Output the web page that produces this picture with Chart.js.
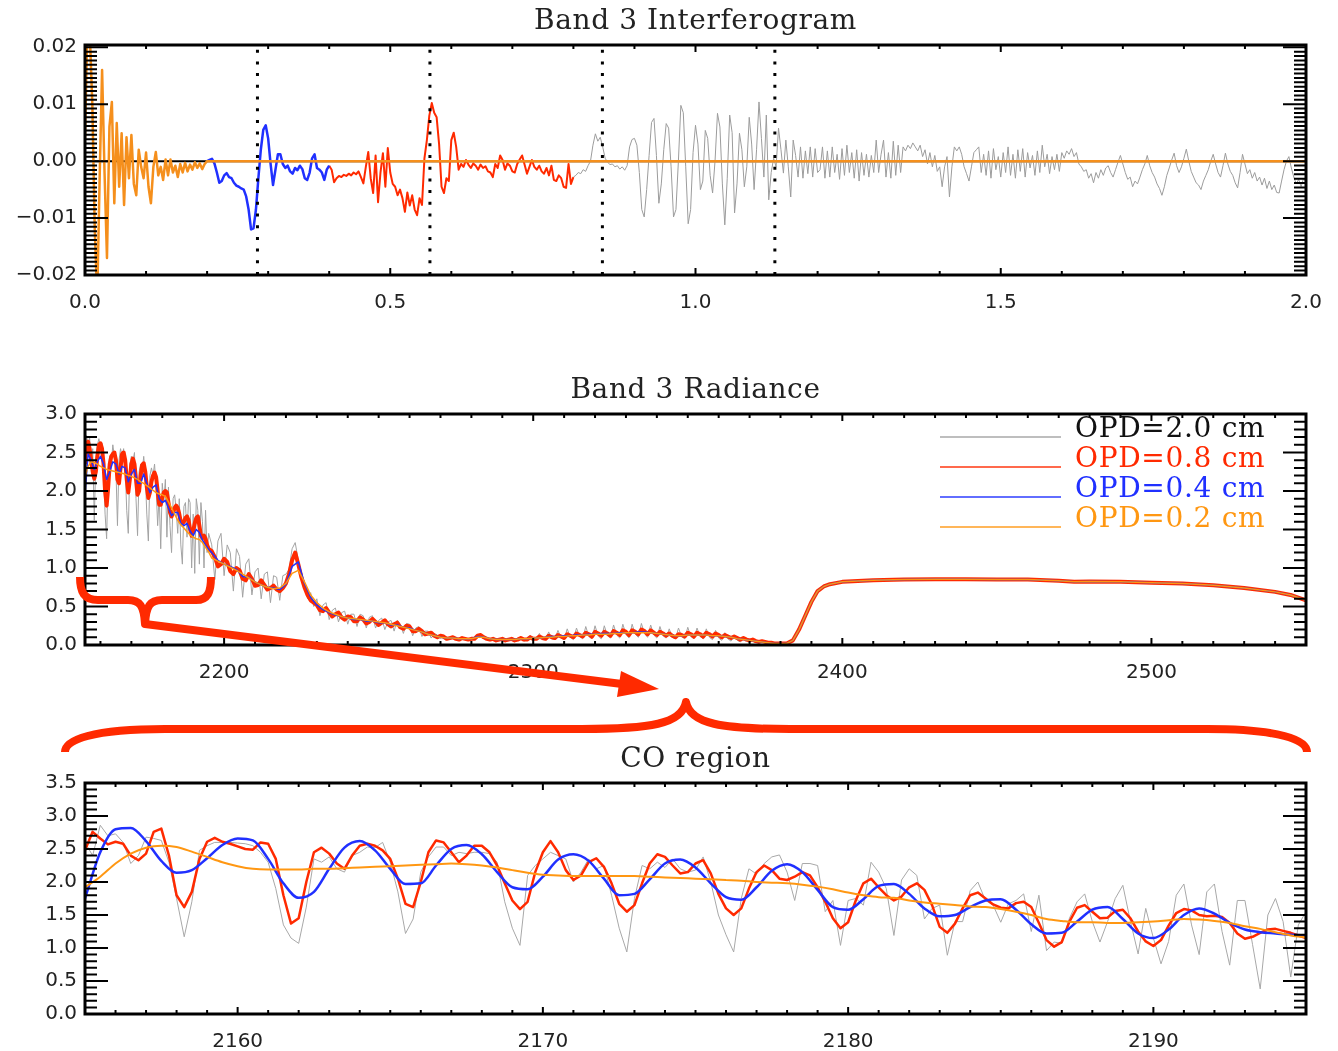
<!DOCTYPE html>
<html>
<head>
<meta charset="utf-8">
<title>Band 3 interferogram / radiance / CO region</title>
<script src="https://cdn.jsdelivr.net/npm/chart.js@4.4.1/dist/chart.umd.min.js"></script>
<style>
  html, body { margin: 0; padding: 0; background: #fff; }
  #page { position: relative; width: 1338px; height: 1051px; overflow: hidden; background: #fff; }
  canvas { position: absolute; left: 0; }
  #c1 { top: 0; width: 1338px; height: 320px; }
  #c2 { top: 360px; width: 1338px; height: 330px; }
  #c3 { top: 730px; width: 1338px; height: 321px; }
  svg { position: absolute; left: 0; top: 0; pointer-events: none; }
</style>
</head>
<body>
<div id="page">
  <canvas id="c1" width="1338" height="320"></canvas>
  <canvas id="c2" width="1338" height="330"></canvas>
  <canvas id="c3" width="1338" height="321"></canvas>
  <!-- annotation marks (brace + arrow) -->
  <svg width="1338" height="1051" viewBox="0 0 1338 1051">
    <g fill="none" stroke="#ff2a00" stroke-width="8" stroke-linejoin="round">
      <path d="M 80 577 C 80 592, 84 600, 98 600 L 128 600 C 140 600, 144 606, 145 624 C 146 606, 150 600, 162 600 L 196 600 C 208 600, 211 592, 211 577"/>
      <path d="M 145 624 L 622 684"/>
      <path d="M 65 752 C 65 740, 92 729, 165 729 L 582 729 C 650 729, 682 724, 686 702 C 690 724, 722 729, 790 729 L 1207 729 C 1280 729, 1307 740, 1307 752"/>
    </g>
    <polygon points="659,689 621,671 617,697" fill="#ff2a00"/>
  </svg>
</div>
<script>
// ---- Interferogramme (OPD en cm, pas de 0.004 cm, 0 -> 2.0) ----
const igmStep = 0.004;
const igmValues = [
  0.004, 0.024, 0.022, 0.010, -0.012, -0.024, -0.003, 0.016, -0.002, -0.017,
  0.006, 0.0104, -0.0074, 0.0067, -0.0045, 0.0049, -0.0077, 0.0042, -0.003, 0.0046,
  -0.004, -0.006, 0.002, -0.001, -0.003, 0.0015, -0.0045, -0.0074, -0.001, 0.0016,
  -0.0025, -0.001, -0.0033, 0.0003, -0.0025, 0.0003, -0.002, -0.0008, -0.0028, -0.0005,
  -0.002, -0.0003, -0.0018, -0.0006, -0.0015, -0.0002, -0.0012, -0.0004, -0.0014, -0.0005,
  0.0, 0.0002, 0.0004, -0.0004, -0.002, -0.0038, -0.0035, -0.0025, -0.0021, -0.0028,
  -0.003, -0.0038, -0.0043, -0.0045, -0.0048, -0.005, -0.0062, -0.0085, -0.012, -0.0118,
  -0.0085, -0.003, 0.002, 0.0055, 0.0063, 0.004, -0.0005, -0.0042, -0.0015, 0.0012,
  0.0012, -0.0005, -0.0012, -0.0008, -0.0018, -0.0022, -0.0012, -0.0016, -0.0008, -0.0014,
  -0.003, -0.0033, -0.002, 0.0005, 0.0012, -0.0012, -0.0015, -0.002, -0.0033, -0.0015,
  -0.0008, -0.0015, -0.0037, -0.003, -0.0026, -0.0028, -0.0024, -0.0026, -0.0022, -0.0025,
  -0.002, -0.0023, -0.0018, -0.0028, -0.0039, -0.001, 0.0016, -0.003, -0.0056, 0.001,
  -0.0072, -0.002, 0.0014, -0.0045, 0.0023, -0.002, -0.004, -0.0045, -0.006, -0.005,
  -0.0065, -0.0089, -0.0055, -0.0078, -0.006, -0.0085, -0.0095, -0.0065, -0.0077, 0.0005,
  0.0037, 0.008, 0.0102, 0.0085, 0.0077, 0.003, -0.0045, -0.0056, -0.003, -0.0035,
  0.0037, 0.005, 0.0025, -0.0015, -0.0005, -0.001, 0.0002, -0.0006, -0.0012, -0.0004,
  -0.0008, -0.0015, -0.0006, -0.0012, -0.0009, -0.0018, -0.002, -0.0028, -0.0005, -0.0012,
  0.001, 0.0002, -0.0015, -0.0004, -0.0008, -0.0018, -0.002, -0.0005, 0.0003, 0.001,
  -0.0006, -0.0022, -0.001, 0.0002, -0.001, -0.0015, -0.0008, -0.0018, -0.0022, -0.0012,
  -0.0025, -0.0008, -0.0033, -0.0035, -0.0025, -0.003, -0.0045, -0.0047, -0.0005, -0.004,
  -0.0028, -0.0025, -0.002, -0.0022, -0.0015, -0.0018, -0.0008, 0.0, 0.0028, 0.0048,
  0.0035, 0.0042, 0.0025, 0.0005, -0.0002, -0.0006, -0.0005, -0.001, -0.0008, -0.0014,
  -0.001, -0.0016, -0.0008, 0.0025, 0.0038, 0.004, 0.0028, -0.002, -0.0085, -0.0098,
  -0.005, 0.001, 0.0068, 0.0075, 0.001, -0.0074, -0.004, 0.002, 0.0066, 0.0058,
  -0.001, -0.0098, -0.0085, 0.0, 0.0098, 0.0085, -0.001, -0.011, -0.0085, 0.0015,
  0.0063, 0.003, -0.005, -0.0035, 0.0054, 0.004, -0.0025, -0.0056, 0.0, 0.0084,
  0.006, -0.004, -0.0112, -0.003, 0.0081, 0.005, -0.0091, -0.004, 0.0049, 0.002,
  -0.0045, -0.001, 0.0077, 0.003, -0.005, 0.002, 0.0104, 0.004, -0.0028, 0.0081,
  -0.0068, -0.002, 0.0005, -0.001, 0.0058, 0.002, -0.0021, 0.0037, -0.001, -0.0063,
  0.0037, 0.001, -0.0028, 0.0025, -0.003, 0.0018, -0.0022, 0.0025, -0.0028, 0.0022,
  -0.002, -0.0015, 0.0025, -0.003, 0.0018, -0.0028, 0.0025, -0.002, 0.0012, -0.0032,
  0.0022, -0.0025, 0.0028, -0.002, 0.0015, -0.003, 0.002, -0.0035, 0.0015, -0.0025,
  0.0012, -0.0028, 0.001, -0.002, 0.0037, -0.002, 0.0012, 0.0037, -0.0028, 0.0015,
  -0.003, 0.0035, -0.0025, 0.0028, -0.002, 0.0025, 0.0018, 0.0028, 0.0022, 0.0032,
  0.0025, 0.0018, 0.0028, 0.0008, 0.002, -0.0005, 0.0015, -0.001, 0.001, -0.0018,
  -0.001, -0.0045, -0.001, 0.0008, -0.0063, -0.001, 0.0025, 0.0018, 0.0025, 0.0012,
  -0.001, -0.0022, -0.0035, -0.001, 0.0015, 0.002, 0.0025, -0.002, 0.0012, -0.0025,
  0.0018, -0.003, 0.0022, -0.0015, 0.0008, -0.0028, 0.0015, -0.002, 0.0025, -0.0025,
  0.0012, -0.003, 0.002, -0.0018, 0.0022, -0.0028, 0.0015, -0.0012, 0.001, -0.0025,
  0.0018, -0.002, 0.0028, -0.001, 0.0012, -0.0022, 0.0008, -0.0015, 0.0012, -0.0018,
  0.0015, 0.0005, 0.0018, 0.0012, 0.0022, 0.0008, 0.0015, -0.0005, -0.001, -0.0018,
  -0.0015, -0.003, -0.0022, -0.0038, -0.002, -0.003, -0.0015, -0.0025, -0.0012, -0.0008,
  -0.002, -0.0028, -0.0015, -0.0002, 0.001, -0.0005, -0.002, -0.0032, -0.0028, -0.0045,
  -0.0035, -0.004, -0.0028, -0.0015, -0.0005, 0.001, -0.0008, -0.002, -0.0028, -0.004,
  -0.0048, -0.006, -0.0045, -0.0025, -0.0012, 0.0002, 0.0014, -0.0008, -0.002, -0.001,
  0.0005, 0.0021, 0.0, -0.0018, -0.0028, -0.0038, -0.0042, -0.005, -0.0035, -0.0025,
  -0.0015, 0.0, 0.0012, -0.0005, -0.002, -0.0028, -0.0008, 0.0014, -0.0005, -0.0018,
  -0.0025, -0.0038, -0.0047, -0.002, 0.0012, -0.0005, -0.0022, -0.0015, -0.003, -0.002,
  -0.0035, -0.0028, -0.0042, -0.003, -0.0048, -0.0035, -0.005, -0.0042, -0.0055, -0.0056,
  -0.0035, -0.0015, 0.0, 0.0008, -0.0012, -0.0028, -0.004, -0.0032, -0.0045, -0.003,
  -0.0038
];
// troncatures: 0.2 cm (orange), 0.4 cm (bleu), 0.8 cm (rouge), 2.0 cm (gris)
const igmCutIdx = [0, 50, 100, 200, 500];
const opdMarks = [0.2825, 0.565, 0.8475, 1.13];
const igmXMin = 0, igmXMax = 2.0, igmYMin = -0.02, igmYMax = 0.0204;
const igmXTicks = [0, 0.5, 1.0, 1.5, 2.0];
const igmYTicks = [-0.02, -0.01, 0, 0.01, 0.02];

// ---- Region CO (cm-1), panneau du bas ----
const coStart = 2155;
const coFineStep = 0.25;   // gris + rouge
const coSmoothStep = 0.5;  // bleu + orange
const coGray = [
  2.60, 2.40, 2.86, 2.70, 2.73, 2.60, 2.28, 2.40,
  2.68, 2.66, 2.63, 2.30, 1.75, 1.17, 1.70, 2.48,
  2.55, 2.60, 2.60, 2.60, 2.59, 2.58, 2.55, 2.45,
  2.30, 1.90, 1.35, 1.15, 1.07, 1.62, 2.35, 2.30,
  2.38, 2.20, 2.15, 2.40, 2.45, 2.53, 2.52, 2.60,
  2.30, 1.85, 1.22, 1.44, 2.15, 2.38, 2.53, 2.53,
  2.40, 2.45, 2.43, 2.45, 2.45, 2.43, 2.30, 1.70,
  1.30, 1.04, 2.10, 2.25, 2.35, 2.45, 2.40, 2.35,
  2.00, 2.15, 2.35, 2.20, 2.25, 1.80, 1.30, 0.94,
  1.75, 2.25, 2.20, 2.30, 2.22, 2.35, 2.20, 2.15,
  2.18, 2.38, 2.00, 1.50, 1.20, 0.94, 1.75, 2.20,
  2.12, 2.28, 2.38, 2.41, 2.15, 1.72, 2.28, 2.28,
  2.25, 1.55, 1.72, 1.04, 1.72, 1.75, 1.65, 2.30,
  2.15, 1.90, 1.19, 2.03, 2.20, 2.10, 1.44, 1.60,
  1.65, 0.89, 1.40, 1.40, 1.87, 2.00, 1.72, 1.65,
  1.39, 1.67, 1.72, 1.82, 1.25, 1.80, 0.96, 1.09,
  1.07, 1.45, 1.70, 1.82, 1.40, 1.09, 1.40, 1.75,
  1.95, 1.40, 0.91, 1.60, 1.15, 0.76, 1.10, 1.80,
  1.97, 1.35, 0.90, 1.85, 1.97, 1.25, 0.74, 1.72,
  1.72, 1.05, 0.38, 1.50, 1.75, 1.40, 0.56, 1.35,
  1.55
];
const coRed = [
  2.48, 2.76, 2.66, 2.57, 2.61, 2.58, 2.40, 2.33,
  2.43, 2.76, 2.81, 2.40, 1.80, 1.62, 1.85, 2.35,
  2.61, 2.67, 2.61, 2.58, 2.54, 2.50, 2.49, 2.60,
  2.58, 2.35, 1.80, 1.37, 1.45, 2.00, 2.45, 2.52,
  2.43, 2.28, 2.20, 2.40, 2.55, 2.58, 2.55, 2.48,
  2.35, 2.05, 1.67, 1.62, 2.00, 2.45, 2.63, 2.60,
  2.45, 2.30, 2.40, 2.55, 2.55, 2.45, 2.25, 1.98,
  1.72, 1.59, 1.70, 2.15, 2.45, 2.62, 2.45, 2.18,
  2.03, 2.10, 2.30, 2.36, 2.23, 1.98, 1.67, 1.55,
  1.65, 1.98, 2.28, 2.42, 2.38, 2.25, 2.13, 2.15,
  2.28, 2.33, 2.13, 1.82, 1.60, 1.50, 1.60, 1.90,
  2.15, 2.25, 2.18, 2.05, 2.03, 2.08, 2.15, 2.10,
  1.92, 1.70, 1.45, 1.30, 1.39, 1.72, 1.98, 2.05,
  1.92, 1.80, 1.72, 1.78, 1.92, 1.98, 1.88, 1.65,
  1.32, 1.23, 1.37, 1.60, 1.80, 1.84, 1.75, 1.66,
  1.61, 1.60, 1.68, 1.70, 1.62, 1.38, 1.12, 1.02,
  1.09, 1.40, 1.61, 1.65, 1.55, 1.45, 1.46, 1.56,
  1.58, 1.45, 1.25, 1.10, 1.03, 1.12, 1.34, 1.53,
  1.59, 1.57, 1.50, 1.48, 1.49, 1.47, 1.38, 1.22,
  1.14, 1.17, 1.23, 1.28, 1.29, 1.26, 1.23, 1.19,
  1.15
];
const coBlue = [
  1.75, 2.45, 2.80, 2.82, 2.62, 2.32, 2.14, 2.18,
  2.36, 2.56, 2.66, 2.63, 2.35, 1.98, 1.76, 1.85,
  2.20, 2.52, 2.62, 2.48, 2.20, 1.97, 1.98, 2.25,
  2.50, 2.56, 2.42, 2.15, 1.92, 1.89, 2.08, 2.34,
  2.42, 2.32, 2.05, 1.80, 1.82, 2.04, 2.28, 2.34,
  2.22, 1.98, 1.77, 1.73, 1.92, 2.17, 2.27, 2.15,
  1.88, 1.62, 1.58, 1.74, 1.94, 1.97, 1.82, 1.60,
  1.48, 1.50, 1.62, 1.72, 1.74, 1.58, 1.36, 1.22,
  1.23, 1.40, 1.58, 1.62, 1.44, 1.22, 1.15, 1.28,
  1.50, 1.60, 1.52, 1.38, 1.28, 1.24, 1.22, 1.20,
  1.19
];
const coOrange = [
  1.92, 2.08, 2.28, 2.43, 2.52, 2.55, 2.53, 2.46,
  2.38, 2.30, 2.24, 2.20, 2.19, 2.19, 2.19, 2.20,
  2.20, 2.21, 2.22, 2.23, 2.24, 2.25, 2.26, 2.27,
  2.28, 2.27, 2.25, 2.22, 2.18, 2.14, 2.11, 2.10,
  2.09, 2.09, 2.09, 2.09, 2.09, 2.08, 2.07, 2.06,
  2.05, 2.04, 2.03, 2.02, 2.00, 1.99, 1.98, 1.96,
  1.93, 1.89, 1.84, 1.80, 1.77, 1.76, 1.72, 1.69,
  1.67, 1.65, 1.63, 1.62, 1.59, 1.55, 1.50, 1.44,
  1.41, 1.39, 1.39, 1.38, 1.38, 1.39, 1.40, 1.42,
  1.44, 1.43, 1.41, 1.38, 1.33, 1.29, 1.24, 1.19,
  1.16
];

// ---- Bande 3 (panneau du milieu) : region CO telle que tracee ----
const radCoStep = 0.5;     // gris + rouge
const radCoSmoothStep = 1; // bleu + orange
const radCoGray = [
  2.20, 2.72, 2.60, 2.70, 2.30, 2.55, 1.62, 2.40,
  2.60, 2.68, 2.55, 2.62, 2.25, 1.70, 1.38, 2.30,
  2.45, 2.35, 2.60, 2.45, 2.30, 1.55, 2.40, 2.55,
  2.45, 2.55, 2.30, 1.75, 1.45, 2.35, 2.45, 2.38,
  2.50, 1.90, 1.42, 2.25, 2.35, 2.25, 2.45, 2.20,
  1.70, 1.35, 2.20, 2.30, 2.20, 2.35, 2.05, 1.55,
  1.95, 1.25, 2.10, 1.85, 2.15, 1.40, 2.05, 1.55,
  1.20, 1.90, 1.95, 1.75, 1.45, 1.90, 1.30, 1.05,
  1.80, 1.85, 1.40, 1.90, 1.85, 1.00, 1.70, 0.93,
  1.90, 1.75, 1.05, 1.85, 1.60, 1.00, 1.75, 1.20,
  1.45
];
const radCoRed = [
  2.35, 2.60, 2.64, 2.55, 2.40, 2.25, 2.16, 2.25,
  2.45, 2.60, 2.62, 2.55, 2.35, 2.00, 1.81, 2.05,
  2.35, 2.45, 2.48, 2.50, 2.40, 2.15, 2.10, 2.30,
  2.48, 2.50, 2.40, 2.15, 1.98, 2.15, 2.35, 2.42,
  2.35, 2.15, 1.95, 2.00, 2.20, 2.34, 2.36, 2.25,
  2.05, 1.91, 1.98, 2.12, 2.20, 2.24, 2.18, 2.00,
  1.82, 1.82, 1.92, 1.98, 2.00, 1.98, 1.85, 1.72,
  1.67, 1.72, 1.78, 1.81, 1.78, 1.70, 1.60, 1.58,
  1.60, 1.65, 1.67, 1.62, 1.50, 1.42, 1.48, 1.58,
  1.65, 1.67, 1.55, 1.42, 1.39, 1.42, 1.38, 1.30,
  1.25
];
const radCoBlue = [
  1.95, 2.48, 2.40, 2.28, 2.38, 2.45, 2.35, 2.15, 2.25, 2.38,
  2.35, 2.22, 2.32, 2.30, 2.12, 2.22, 2.28, 2.10, 2.10, 2.22,
  2.10, 1.98, 2.05, 2.08, 1.90, 1.85, 1.88, 1.78, 1.68, 1.72,
  1.72, 1.58, 1.55, 1.58, 1.48, 1.42, 1.50, 1.46, 1.36, 1.30,
  1.24
];
const radCoOrange = [
  2.18, 2.32, 2.38, 2.37, 2.35, 2.32, 2.30, 2.28, 2.27, 2.26,
  2.25, 2.24, 2.23, 2.22, 2.20, 2.19, 2.17, 2.15, 2.12, 2.10,
  2.07, 2.04, 2.01, 1.98, 1.96, 1.95, 1.93, 1.86, 1.78, 1.70,
  1.62, 1.56, 1.52, 1.47, 1.43, 1.40, 1.38, 1.37, 1.33, 1.27,
  1.21
];

// ---- Bande 3, suite du spectre (2196 -> 2380) ----
const midStart = 2196;
const midFineStep = 1;
const midSmoothStep = 2;
const midGray = [
  1.30, 0.85, 1.35, 1.45, 0.90, 1.30, 1.20, 0.70, 1.25, 1.15,
  0.62, 1.05, 1.12, 0.65, 0.95, 1.00, 0.60, 0.92, 0.95, 0.55,
  0.90, 0.88, 0.58, 0.90, 0.92, 0.98, 1.25, 1.33, 1.10, 0.90,
  0.80, 0.60, 0.68, 0.50, 0.60, 0.38, 0.52, 0.55, 0.33, 0.45,
  0.48, 0.30, 0.42, 0.44, 0.27, 0.40, 0.40, 0.24, 0.40, 0.38,
  0.22, 0.36, 0.38, 0.22, 0.32, 0.35, 0.20, 0.30, 0.32, 0.18,
  0.32, 0.27, 0.15, 0.28, 0.27, 0.12, 0.22, 0.24, 0.11, 0.18,
  0.18, 0.09, 0.15, 0.13, 0.08, 0.13, 0.07, 0.10, 0.11, 0.07,
  0.08, 0.10, 0.07, 0.08, 0.09, 0.08, 0.13, 0.13, 0.09, 0.08,
  0.07, 0.08, 0.06, 0.08, 0.07, 0.06, 0.08, 0.09, 0.05, 0.08,
  0.11, 0.05, 0.07, 0.13, 0.06, 0.08, 0.15, 0.07, 0.07, 0.17,
  0.08, 0.07, 0.19, 0.09, 0.07, 0.21, 0.10, 0.07, 0.22, 0.11,
  0.08, 0.24, 0.11, 0.08, 0.25, 0.12, 0.08, 0.25, 0.12, 0.09,
  0.26, 0.13, 0.09, 0.27, 0.14, 0.09, 0.27, 0.14, 0.10, 0.28,
  0.15, 0.10, 0.26, 0.13, 0.09, 0.24, 0.12, 0.09, 0.21, 0.10,
  0.08, 0.22, 0.11, 0.08, 0.23, 0.11, 0.08, 0.22, 0.11, 0.08,
  0.21, 0.10, 0.07, 0.19, 0.09, 0.06, 0.16, 0.08, 0.05, 0.13,
  0.06, 0.04, 0.10, 0.05, 0.03, 0.08, 0.04, 0.02, 0.05, 0.03,
  0.02, 0.03, 0.02, 0.02, 0.02
];
const midRed = [
  1.22, 1.14, 1.02, 1.05, 1.12, 1.08, 0.96, 0.92, 1.00, 0.97,
  0.86, 0.84, 0.92, 0.86, 0.77, 0.78, 0.84, 0.78, 0.72, 0.74,
  0.77, 0.72, 0.70, 0.74, 0.80, 0.92, 1.10, 1.20, 1.05, 0.88,
  0.75, 0.65, 0.58, 0.55, 0.52, 0.45, 0.44, 0.48, 0.42, 0.37,
  0.40, 0.42, 0.36, 0.33, 0.37, 0.36, 0.31, 0.31, 0.36, 0.33,
  0.28, 0.30, 0.34, 0.30, 0.26, 0.29, 0.32, 0.27, 0.24, 0.27,
  0.29, 0.23, 0.21, 0.25, 0.24, 0.18, 0.18, 0.21, 0.18, 0.14,
  0.15, 0.16, 0.12, 0.10, 0.12, 0.11, 0.08, 0.09, 0.10, 0.08,
  0.07, 0.09, 0.08, 0.07, 0.08, 0.08, 0.12, 0.13, 0.10, 0.08,
  0.07, 0.08, 0.06, 0.07, 0.08, 0.06, 0.07, 0.08, 0.06, 0.07,
  0.09, 0.07, 0.07, 0.10, 0.08, 0.08, 0.11, 0.09, 0.08, 0.12,
  0.10, 0.09, 0.13, 0.11, 0.09, 0.14, 0.12, 0.10, 0.15, 0.13,
  0.11, 0.16, 0.14, 0.11, 0.17, 0.15, 0.12, 0.17, 0.15, 0.12,
  0.18, 0.16, 0.13, 0.19, 0.17, 0.13, 0.19, 0.17, 0.14, 0.20,
  0.18, 0.14, 0.19, 0.16, 0.13, 0.17, 0.15, 0.12, 0.15, 0.12,
  0.10, 0.14, 0.13, 0.11, 0.16, 0.14, 0.11, 0.16, 0.14, 0.11,
  0.16, 0.14, 0.11, 0.15, 0.13, 0.10, 0.13, 0.11, 0.09, 0.11,
  0.09, 0.07, 0.09, 0.07, 0.06, 0.07, 0.05, 0.04, 0.05, 0.04,
  0.03, 0.03, 0.02, 0.02, 0.02
];
const midBlue = [
  1.20, 1.10, 1.05, 1.02, 0.98, 0.89, 0.88, 0.82, 0.78, 0.75,
  0.74, 0.72, 0.79, 1.02, 1.08, 0.80, 0.62, 0.52, 0.46, 0.42,
  0.39, 0.37, 0.35, 0.33, 0.33, 0.31, 0.31, 0.29, 0.29, 0.26,
  0.26, 0.23, 0.22, 0.19, 0.17, 0.14, 0.12, 0.10, 0.09, 0.09,
  0.08, 0.08, 0.08, 0.11, 0.10, 0.08, 0.07, 0.07, 0.07, 0.07,
  0.08, 0.08, 0.09, 0.09, 0.10, 0.11, 0.11, 0.12, 0.12, 0.13,
  0.13, 0.14, 0.14, 0.15, 0.15, 0.15, 0.16, 0.16, 0.16, 0.17,
  0.17, 0.16, 0.15, 0.14, 0.13, 0.12, 0.12, 0.13, 0.13, 0.13,
  0.13, 0.12, 0.12, 0.11, 0.10, 0.08, 0.07, 0.06, 0.05, 0.04,
  0.03, 0.02, 0.02
];
const midOrange = [
  1.13, 1.09, 1.05, 1.01, 0.97, 0.92, 0.87, 0.82, 0.78, 0.75,
  0.73, 0.74, 0.80, 0.93, 0.97, 0.82, 0.65, 0.55, 0.48, 0.43,
  0.40, 0.37, 0.35, 0.34, 0.33, 0.32, 0.31, 0.30, 0.29, 0.27,
  0.25, 0.23, 0.21, 0.19, 0.17, 0.14, 0.12, 0.10, 0.09, 0.09,
  0.08, 0.08, 0.08, 0.10, 0.10, 0.08, 0.07, 0.07, 0.07, 0.07,
  0.08, 0.08, 0.09, 0.09, 0.10, 0.10, 0.11, 0.11, 0.12, 0.12,
  0.13, 0.13, 0.14, 0.14, 0.14, 0.15, 0.15, 0.16, 0.16, 0.16,
  0.16, 0.16, 0.15, 0.14, 0.13, 0.12, 0.12, 0.13, 0.13, 0.13,
  0.13, 0.12, 0.12, 0.11, 0.10, 0.08, 0.07, 0.06, 0.05, 0.04,
  0.03, 0.02, 0.02
];
// partie lisse commune aux 4 resolutions
const tailX = [2382, 2384, 2386, 2388, 2390, 2392, 2394, 2396, 2400, 2405, 2410, 2420, 2430, 2440,
  2450, 2460, 2470, 2475, 2480, 2490, 2500, 2510, 2520, 2530, 2540, 2545, 2550];
const tailY = [0.02, 0.06, 0.20, 0.38, 0.56, 0.70, 0.76, 0.79, 0.82, 0.83, 0.84, 0.85, 0.855, 0.855,
  0.85, 0.85, 0.835, 0.82, 0.825, 0.82, 0.81, 0.80, 0.775, 0.74, 0.69, 0.65, 0.58];

const radXMin = 2155, radXMax = 2550;
const radXTicks = [2200, 2300, 2400, 2500];
const radYTicks = [0, 0.5, 1.0, 1.5, 2.0, 2.5, 3.0];
const coXMin = 2155, coXMax = 2195;
const coXTicks = [2160, 2170, 2180, 2190];
const coYTicks = [0, 0.5, 1.0, 1.5, 2.0, 2.5, 3.0, 3.5];

const opdLabels = ['OPD=2.0 cm', 'OPD=0.8 cm', 'OPD=0.4 cm', 'OPD=0.2 cm'];
const opdColors = ['#a3a3a3', '#ff2a00', '#2030ff', '#ff9712'];
const legendTextColors = ['#111111', '#ff2a00', '#2030ff', '#ff9712'];

// ---- helpers ----
function seq(start, step, values) {
  return values.map((y, i) => ({ x: start + i * step, y }));
}
function igmPoints(i0, i1) {
  return seq(i0 * igmStep, igmStep, igmValues.slice(i0, i1 + 1));
}
const tail = tailX.map((x, i) => ({ x, y: tailY[i] }));

// ticks IDL : vers l'interieur, sur les quatre cotes + titre centre sur le cadre
function tickRun(scale, minor, major, fn) {
  const n0 = Math.ceil(scale.min / minor - 1e-6);
  const n1 = Math.floor(scale.max / minor + 1e-6);
  const per = Math.round(major / minor);
  for (let n = n0; n <= n1; n++) fn(scale.getPixelForValue(n * minor), n % per === 0);
}
const idlAxes = {
  id: 'idlAxes',
  afterDatasetsDraw(chart, args, o) {
    const { ctx, chartArea: a } = chart;
    ctx.save();
    ctx.strokeStyle = '#000';
    ctx.lineWidth = 2;
    ctx.beginPath();
    tickRun(chart.scales.x, o.xMinor, o.xMajor, (p, major) => {
      const len = major ? o.xMajorLen : o.xMinorLen;
      ctx.moveTo(p, a.bottom); ctx.lineTo(p, a.bottom - len);
      ctx.moveTo(p, a.top); ctx.lineTo(p, a.top + len);
    });
    tickRun(chart.scales.y, o.yMinor, o.yMajor, (p, major) => {
      const len = major ? o.yMajorLen : o.yMinorLen;
      ctx.moveTo(a.left, p); ctx.lineTo(a.left + len, p);
      ctx.moveTo(a.right, p); ctx.lineTo(a.right - len, p);
    });
    ctx.stroke();
    ctx.lineWidth = 3;
    ctx.strokeRect(a.left, a.top, a.right - a.left, a.bottom - a.top);
    // titre
    ctx.fillStyle = '#222';
    ctx.font = 'normal 28px "DejaVu Serif"';
    ctx.letterSpacing = '0.6px';
    ctx.textAlign = 'center';
    ctx.textBaseline = 'middle';
    ctx.fillText(o.title, (a.left + a.right) / 2, a.top - 23);
    ctx.restore();
  }
};
// legende a droite : trait long puis texte colore
const lineLegend = {
  id: 'lineLegend',
  afterDatasetsDraw(chart, args, o) {
    if (!o.display) return;
    const { ctx, chartArea: a } = chart;
    ctx.save();
    ctx.font = o.font;
    ctx.letterSpacing = '0.7px';
    ctx.textBaseline = 'alphabetic';
    chart.data.datasets.filter(d => d.label).forEach((d, i) => {
      const y = a.top + o.top + i * o.gap;
      ctx.globalAlpha = 0.7;
      ctx.strokeStyle = d.borderColor;
      ctx.lineWidth = 2;
      ctx.beginPath();
      ctx.moveTo(a.right - o.lineStart, y);
      ctx.lineTo(a.right - o.lineEnd, y);
      ctx.stroke();
      ctx.globalAlpha = 1;
      ctx.fillStyle = o.textColors[i];
      ctx.fillText(d.label, a.right - o.textStart, y);
    });
    ctx.restore();
  }
};

const tickFont = { family: 'DejaVu Sans', size: 20, weight: 'normal' };

function axes(xMin, xMax, xTicks, xFmt, yMin, yMax, yTicks, yFmt, xAxisHeight) {
  return {
    x: {
      type: 'linear', min: xMin, max: xMax,
      grid: { display: false, drawTicks: false }, border: { display: false },
      afterBuildTicks: s => { s.ticks = xTicks.map(value => ({ value })); },
      afterFit: s => { s.height = xAxisHeight; },
      ticks: { autoSkip: false, maxRotation: 0, padding: 16, color: '#222', font: tickFont, callback: xFmt }
    },
    y: {
      type: 'linear', min: yMin, max: yMax,
      grid: { display: false, drawTicks: false }, border: { display: false },
      afterBuildTicks: s => { s.ticks = yTicks.map(value => ({ value })); },
      afterFit: s => { s.width = 85; },
      ticks: { autoSkip: false, padding: 8, color: '#222', font: tickFont, callback: yFmt }
    }
  };
}
function baseOptions(padTop, scales, frame, legend) {
  return {
    responsive: false, animation: false, devicePixelRatio: 1,
    layout: { padding: { left: 0, right: 32, top: padTop, bottom: 0 } },
    elements: { point: { radius: 0 }, line: { tension: 0, borderJoinStyle: 'round' } },
    plugins: {
      legend: { display: false }, tooltip: { enabled: false }, title: { display: false },
      idlAxes: frame,
      lineLegend: legend || { display: false }
    },
    scales
  };
}
const fmt1 = v => v.toFixed(1);
const fmtInt = v => String(v);

// ---- Panneau 1 : interferogramme ----
const dotted = opdMarks.map(v => ({
  data: [{ x: v, y: igmYMin }, { x: v, y: igmYMax }],
  borderColor: '#000', borderWidth: 3, borderDash: [3, 8.7], borderCapStyle: 'butt', order: 0
}));
new Chart(document.getElementById('c1'), {
  type: 'line',
  plugins: [idlAxes, lineLegend],
  data: {
    datasets: [
      ...dotted,
      { data: igmPoints(igmCutIdx[0], igmCutIdx[1]).concat([{ x: igmXMax, y: 0 }]), borderColor: '#f58f1c', borderWidth: 2.5, order: 1 },
      { data: igmPoints(igmCutIdx[1], igmCutIdx[2]), borderColor: opdColors[2], borderWidth: 2.5, order: 2 },
      { data: igmPoints(igmCutIdx[2], igmCutIdx[3]), borderColor: opdColors[1], borderWidth: 2, order: 3 },
      { data: igmPoints(igmCutIdx[3], igmCutIdx[4]), borderColor: '#9c9c9c', borderWidth: 1, order: 4 },
      { data: [{ x: igmXMin, y: 0 }, { x: igmXMax, y: 0 }], borderColor: '#000', borderWidth: 2, order: 5 }
    ]
  },
  options: baseOptions(45,
    axes(igmXMin, igmXMax, igmXTicks, fmt1, igmYMin, igmYMax, igmYTicks,
      v => v.toFixed(2).replace('-', '\u2212'), 45),
    { title: 'Band 3 Interferogram', xMinor: 0.1, xMajor: 0.5, xMinorLen: 4, xMajorLen: 7,
      yMinor: 0.01 / 13, yMajor: 0.01, yMinorLen: 12, yMajorLen: 23 })
});

// ---- Panneau 2 : radiance bande 3 ----
const radGray = [...seq(coStart, radCoStep, radCoGray), ...seq(midStart, midFineStep, midGray), ...tail];
const radRed = [...seq(coStart, radCoStep, radCoRed), ...seq(midStart, midFineStep, midRed), ...tail];
const radBlue = [...seq(coStart, radCoSmoothStep, radCoBlue), ...seq(midStart, midSmoothStep, midBlue), ...tail];
const radOrange = [...seq(coStart, radCoSmoothStep, radCoOrange), ...seq(midStart, midSmoothStep, midOrange), ...tail];
new Chart(document.getElementById('c2'), {
  type: 'line',
  plugins: [idlAxes, lineLegend],
  data: {
    datasets: [
      { label: opdLabels[0], data: radGray, borderColor: opdColors[0], borderWidth: 1, order: 4 },
      { label: opdLabels[1], data: radRed, borderColor: opdColors[1], borderWidth: 4, order: 3 },
      { label: opdLabels[2], data: radBlue, borderColor: opdColors[2], borderWidth: 1.5, order: 2 },
      { label: opdLabels[3], data: radOrange, borderColor: opdColors[3], borderWidth: 1.5, order: 1 }
    ]
  },
  options: baseOptions(54,
    axes(radXMin, radXMax, radXTicks, fmtInt, 0, 3.0, radYTicks, fmt1, 45),
    { title: 'Band 3 Radiance', xMinor: 10, xMajor: 100, xMinorLen: 4, xMajorLen: 7,
      yMinor: 0.1, yMajor: 0.5, yMinorLen: 12, yMajorLen: 23 },
    { display: true, font: 'normal 28px "DejaVu Serif"', top: 23, gap: 30, lineStart: 366, lineEnd: 245, textStart: 231, textColors: legendTextColors })
});

// ---- Panneau 3 : region CO ----
new Chart(document.getElementById('c3'), {
  type: 'line',
  plugins: [idlAxes, lineLegend],
  data: {
    datasets: [
      { data: seq(coStart, coFineStep, coGray), borderColor: '#a8a8a8', borderWidth: 1, order: 4 },
      { data: seq(coStart, coFineStep, coRed), borderColor: opdColors[1], borderWidth: 2.5, order: 3 },
      { data: seq(coStart, coSmoothStep, coBlue), borderColor: opdColors[2], borderWidth: 2.5, cubicInterpolationMode: 'monotone', order: 2 },
      { data: seq(coStart, coSmoothStep, coOrange), borderColor: opdColors[3], borderWidth: 2, cubicInterpolationMode: 'monotone', order: 1 }
    ]
  },
  options: baseOptions(53,
    axes(coXMin, coXMax, coXTicks, fmtInt, 0, 3.5, coYTicks, fmt1, 37),
    { title: 'CO region', xMinor: 1, xMajor: 10, xMinorLen: 4, xMajorLen: 7,
      yMinor: 0.1, yMajor: 0.5, yMinorLen: 12, yMajorLen: 23 })
});
</script>
</body>
</html>
